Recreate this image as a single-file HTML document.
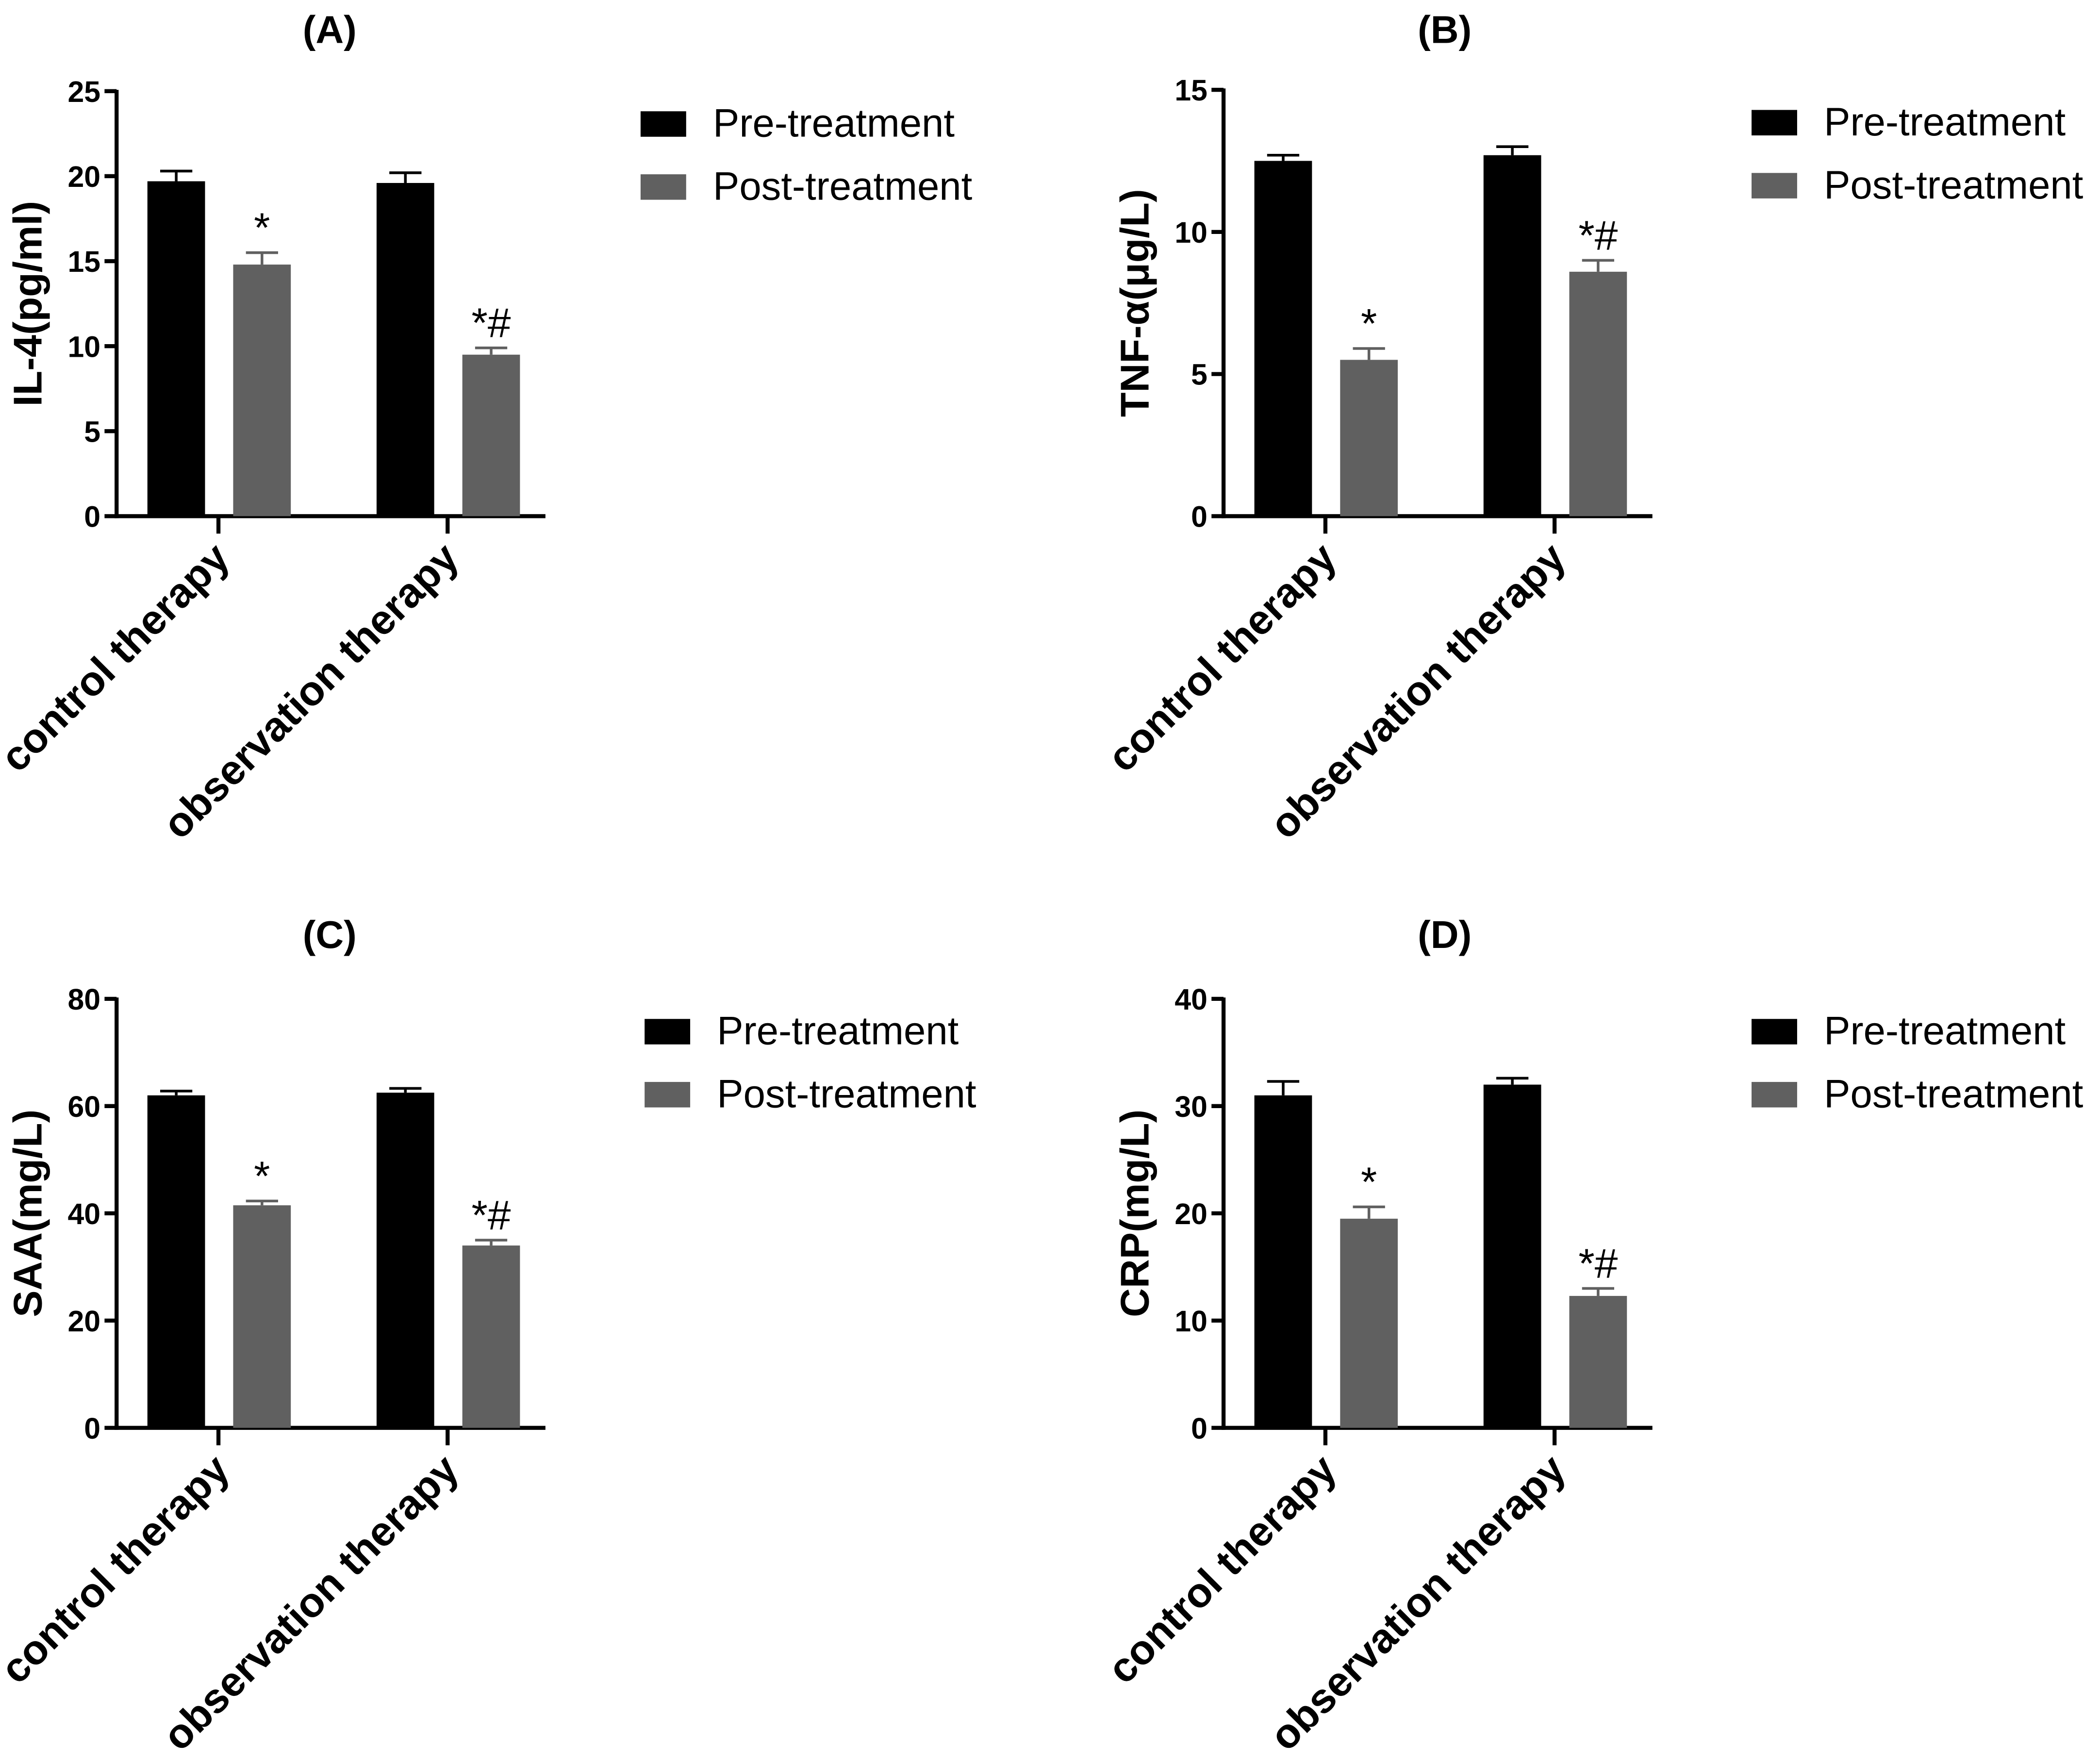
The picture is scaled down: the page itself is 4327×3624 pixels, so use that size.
<!DOCTYPE html>
<html><head><meta charset="utf-8"><style>html,body{margin:0;padding:0;background:#fff}svg{display:block}</style></head>
<body>
<svg id="fig" width="4327" height="3624" viewBox="0 0 1567 1312" preserveAspectRatio="none" xmlns="http://www.w3.org/2000/svg" style="font-family:'Liberation Sans',Arial,sans-serif;background:#fff">
</svg>
<script>
const panelTitles = ["(A)", "(B)", "(C)", "(D)"];
const yTitles = ["IL-4(pg/ml)", "TNF-α(μg/L)", "SAA(mg/L)", "CRP(mg/L)"];
const yMaxes = [25, 15, 80, 40];
const yTickSteps = [5, 5, 20, 10];
const categories = ["control therapy", "observation therapy"];
const seriesNames = ["Pre-treatment", "Post-treatment"];
const preValues = [[19.7, 19.6], [12.5, 12.7], [62, 62.5], [31, 32]];
const preErrors = [[0.6, 0.6], [0.2, 0.3], [0.8, 0.8], [1.3, 0.6]];
const postValues = [[14.8, 9.5], [5.5, 8.6], [41.5, 34], [19.5, 12.3]];
const postErrors = [[0.7, 0.4], [0.4, 0.4], [0.8, 1.0], [1.1, 0.7]];
const postMarks = [["*", "*#"], ["*", "*#"], ["*", "*#"], ["*", "*#"]];

const NS = "http://www.w3.org/2000/svg";
const svg = document.getElementById("fig");
function mk(tag, attrs, parent, text) {
  const e = document.createElementNS(NS, tag);
  for (const k in attrs) e.setAttribute(k, attrs[k]);
  if (text !== undefined) e.textContent = text;
  (parent || svg).appendChild(e);
  return e;
}
const layouts = [
  {ax: 87, top: 68, bot: 385, leg: 478, legY: 92, tx: 246, ty: 22},
  {ax: 913, top: 67, bot: 385, leg: 1307, legY: 91, tx: 1078, ty: 22},
  {ax: 87, top: 745, bot: 1065, leg: 481, legY: 769, tx: 246, ty: 697},
  {ax: 913, top: 745, bot: 1065, leg: 1307, legY: 769, tx: 1078, ty: 697}
];
const colors = ["#000000", "#606060"];
layouts.forEach((L, p) => {
  const g = mk("g", {});
  
  
  const y = v => L.bot - (v / yMaxes[p]) * (L.bot - L.top);
  const t = mk("text", {x: L.tx, y: L.ty + 10, "text-anchor": "middle", "font-size": 29, "font-weight": "bold"}, g, panelTitles[p]);
  
  
  const yl = mk("text", {x: 0, y: 0, transform: `translate(${L.ax - 56},${(L.top + L.bot) / 2}) rotate(-90)`, "text-anchor": "middle", "font-size": 30, "font-weight": "bold"}, g, yTitles[p]);
  
  
  const ya = mk("line", {x1: L.ax, y1: L.top - 1, x2: L.ax, y2: L.bot + 1.5, stroke: "#000", "stroke-width": 3}, g);
  
  
  const xa = mk("line", {x1: L.ax - 1.5, y1: L.bot, x2: L.ax + 320, y2: L.bot, stroke: "#000", "stroke-width": 3}, g);
  
  
  for (let v = 0; v <= yMaxes[p]; v += yTickSteps[p]) {
    mk("line", {x1: L.ax - 9, y1: y(v), x2: L.ax, y2: y(v), stroke: "#000", "stroke-width": 3}, g);
    const tl = mk("text", {x: L.ax - 12, y: y(v) + 8, "text-anchor": "end", "font-size": 22, "font-weight": "bold"}, g, String(v));
    
    
  }
  categories.forEach((c, i) => {
    const cx = L.ax + 76 + i * 171;
    mk("line", {x1: cx, y1: L.bot, x2: cx, y2: L.bot + 13, stroke: "#000", "stroke-width": 3}, g);
    const cl = mk("text", {x: 0, y: 0, transform: `translate(${cx + 10},${L.bot + 33}) rotate(-45)`, "text-anchor": "end", "font-size": 31, "font-weight": "bold"}, g, c);
    
    
    [[preValues, preErrors, 0], [postValues, postErrors, 1]].forEach(([vals, errs, s]) => {
      const v = vals[p][i], e = errs[p][i];
      const x0 = s === 0 ? cx - 53 : cx + 11;
      const r = mk("rect", {x: x0, y: y(v), width: 43, height: L.bot - y(v), fill: colors[s]}, g);
      
      
      const bx = x0 + 21.5;
      mk("line", {x1: bx, y1: y(v), x2: bx, y2: y(v + e), stroke: colors[s], "stroke-width": 2}, g);
      mk("line", {x1: bx - 12, y1: y(v + e), x2: bx + 12, y2: y(v + e), stroke: colors[s], "stroke-width": 2}, g);
      if (s === 1) {
        const m = mk("text", {x: bx, y: y(v + e) - 8, "text-anchor": "middle", "font-size": 31}, g, postMarks[p][i]);
        
        
      }
    });
  });
  seriesNames.forEach((n, s) => {
    const ly = L.legY + s * 47;
    const sw = mk("rect", {x: L.leg, y: ly - 9, width: 34, height: 19, fill: colors[s]}, g);
    
    
    const lt = mk("text", {x: L.leg + 54, y: ly + 10, "font-size": 29.5}, g, n);
    
    
  });
});
</script>
</body></html>
